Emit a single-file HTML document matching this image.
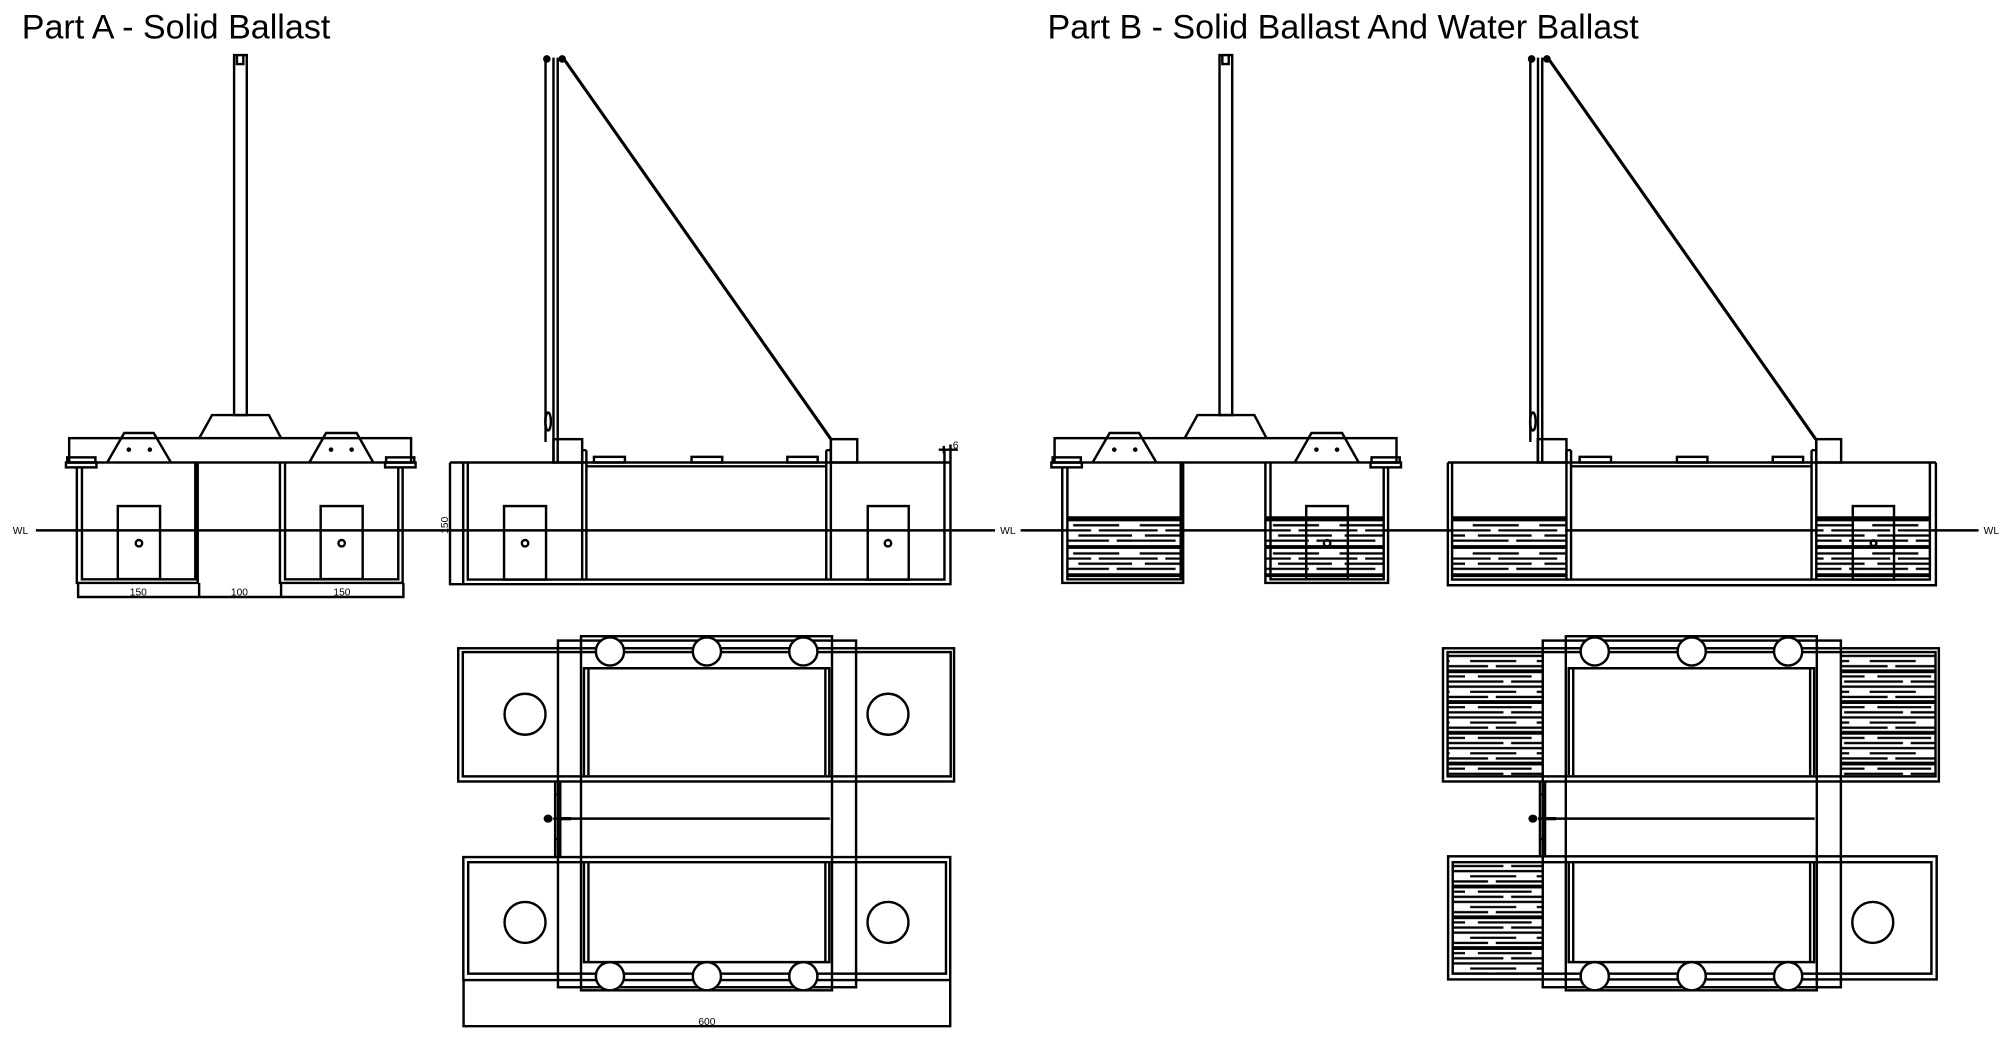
<!DOCTYPE html>
<html><head><meta charset="utf-8"><style>
html,body{margin:0;padding:0;background:#fff;}
svg{display:block;}
</style></head><body>
<svg width="2008" height="1039" viewBox="0 0 1568 811" preserveAspectRatio="none" xmlns="http://www.w3.org/2000/svg">
<defs>
<pattern id="water" width="52" height="22" patternUnits="userSpaceOnUse" x="0" y="403">
<rect width="52" height="22" fill="#fff"/>
<g stroke="#000" stroke-width="1.8">
<line x1="0" y1="2" x2="52" y2="2" stroke-width="3"/>
<line x1="6" y1="7" x2="42" y2="7"/>
<line x1="0" y1="11" x2="20" y2="11"/><line x1="26" y1="11" x2="52" y2="11"/>
<line x1="10" y1="15" x2="52" y2="15"/>
<line x1="0" y1="19" x2="34" y2="19"/><line x1="40" y1="19" x2="52" y2="19"/>
</g>
</pattern>
<pattern id="waterP" width="52" height="24" patternUnits="userSpaceOnUse" x="0" y="510">
<rect width="52" height="24" fill="#fff"/>
<g stroke="#000" stroke-width="1.8">
<line x1="0" y1="2" x2="52" y2="2"/>
<line x1="4" y1="6" x2="40" y2="6"/>
<line x1="0" y1="10" x2="18" y2="10"/><line x1="24" y1="10" x2="52" y2="10"/>
<line x1="0" y1="14" x2="52" y2="14" stroke-width="3"/>
<line x1="10" y1="18" x2="52" y2="18"/>
<line x1="0" y1="22" x2="30" y2="22"/><line x1="36" y1="22" x2="52" y2="22"/>
</g>
</pattern>
<g id="front">
<rect x="54" y="342" width="267" height="19"/>
<rect x="52.5" y="357" width="22" height="4"/><rect x="51.5" y="361" width="23.8" height="3.8"/>
<rect x="301.5" y="357" width="22" height="4"/><rect x="300.7" y="361" width="23.8" height="3.8"/>
<path d="M60 364.8V455H154.4V361M64 364.8V452.2H152.5V361"/>
<path d="M218.6 361V455H314.4V364.8M222.6 361V452.2H311V364.8"/>
<path d="M83.7 361L97 338H120L133.5 361"/>
<path d="M241.5 361L254.6 338H278.5L291.5 361"/>
<path d="M155.6 342L165.6 324H210L219.5 342"/>
<rect x="182.8" y="43" width="9.9" height="281"/>
<path d="M185 43V50H190V43"/>
<g fill="#000" stroke="none">
<circle cx="100.6" cy="351" r="1.8"/><circle cx="117" cy="351" r="1.8"/>
<circle cx="258.5" cy="351" r="1.8"/><circle cx="274.6" cy="351" r="1.8"/>
</g>
</g>
<g id="plan">
<rect x="435.7" y="500" width="232.8" height="270.6"/>
<rect x="453.7" y="496.6" width="196" height="276.4"/>
<path d="M456 605V521.6H647.6V605M459.5 605V521.6M644.5 605V521.6"/>
<path d="M456 673V751H647.6V673M459.5 673V751M644.5 673V751"/>
<path d="M432 639H648"/>
<path d="M433.5 610V669M437.5 610V669M433.5 620H437.5M433.5 655H437.5"/>
<ellipse cx="428" cy="639" rx="2.6" ry="2.2" fill="#000"/>
<path d="M438 639H446" stroke-width="2.6"/>
</g>
</defs>

<text x="17" y="30" font-family="Liberation Sans, sans-serif" font-size="26.6" fill="#000">Part A - Solid Ballast</text>
<text x="818" y="30" font-family="Liberation Sans, sans-serif" font-size="26.6" fill="#000">Part B - Solid Ballast And Water Ballast</text>

<g fill="none" stroke="#000" stroke-width="1.9">
<line x1="28" y1="414" x2="777" y2="414"/>
<line x1="797" y1="414" x2="1545" y2="414"/>

<use href="#front"/>
<rect x="92" y="395" width="33" height="57"/><circle cx="108.5" cy="424" r="2.5"/>
<rect x="250.4" y="395" width="32.8" height="57"/><circle cx="266.8" cy="424" r="2.5"/>
<path d="M61 466H315M61 455V467M155.5 455V467M219.5 455V467M315 455V467"/>

<path d="M351.4 361V456H742.2V347M351.4 361H742.2"/>
<path d="M361.7 361V456M365.3 361V452.4H737.5V351"/>
<path d="M454.6 351.4V452.4M457.9 351.4V452.4M454.6 351.4H457.9"/>
<path d="M645.2 351.4V452.4M648.8 343V452.4M645.2 351.4H648.8"/>
<path d="M457.9 364H645.2"/>
<rect x="432.2" y="342.8" width="22.4" height="18.2"/>
<rect x="648.8" y="342.8" width="20.6" height="18.2"/>
<rect x="463.8" y="356.6" width="24.2" height="4.4"/>
<rect x="540" y="356.6" width="24" height="4.4"/>
<rect x="614.8" y="356.6" width="23.7" height="4.4"/>
<rect x="393.6" y="395" width="32.8" height="57.4"/><circle cx="410" cy="424" r="2.5"/>
<rect x="677.6" y="395" width="32" height="57.4"/><circle cx="693.4" cy="424" r="2.5"/>
<path d="M426 45V345M432.2 45V361M435.5 45V361"/>
<ellipse cx="428" cy="329" rx="2.2" ry="7"/>
<circle cx="427" cy="46" r="2" fill="#000"/><circle cx="439" cy="46" r="2" fill="#000"/>
<path d="M441 47L649 343" stroke-width="2.4"/>
<path d="M733 351H748M737 348V354"/>

<rect x="357.8" y="506" width="387.2" height="104"/>
<rect x="361.4" y="509" width="381" height="97"/>
<rect x="361.8" y="669" width="380.2" height="96"/>
<rect x="365.6" y="673" width="373.1" height="87"/>
<path d="M362 765V801H742V765"/>
<use href="#plan"/>
<g fill="#fff">
<circle cx="476.3" cy="508.5" r="11"/><circle cx="552" cy="508.5" r="11"/><circle cx="627.3" cy="508.5" r="11"/>
<circle cx="476.3" cy="762" r="11"/><circle cx="552" cy="762" r="11"/><circle cx="627.3" cy="762" r="11"/>
</g>
<circle cx="410" cy="557.5" r="16"/><circle cx="693.4" cy="557.5" r="16"/>
<circle cx="410" cy="720" r="16"/><circle cx="693.4" cy="720" r="16"/>

<rect x="834" y="403" width="88" height="49" fill="url(#water)" stroke="none"/>
<rect x="989" y="403" width="91" height="49" fill="url(#water)" stroke="none"/>
<path d="M834 405H922M989 405H1080" stroke-width="4"/>
<use href="#front" transform="translate(769.5 0)"/>
<rect x="1020" y="395" width="32.5" height="57"/><circle cx="1036.3" cy="424" r="2.5"/>

<rect x="1134" y="403" width="89" height="49" fill="url(#water)" stroke="none"/>
<rect x="1418.3" y="403" width="88.7" height="49" fill="url(#water)" stroke="none"/>
<path d="M1134 405H1223M1418.3 405H1507" stroke-width="4"/>
<path d="M1130.6 361V456.8H1511.7V361M1130.6 361H1511.7"/>
<path d="M1133.9 361V452.4H1507V361"/>
<path d="M1223.2 351.4V452.4M1226.8 351.4V452.4M1223.2 351.4H1226.8"/>
<path d="M1414.6 351.4V452.4M1418.3 343V452.4M1414.6 351.4H1418.3"/>
<path d="M1226.8 364H1414.6"/>
<rect x="1200.8" y="342.8" width="22.4" height="18.2"/>
<rect x="1418.3" y="342.8" width="19.4" height="18.2"/>
<rect x="1233.5" y="356.6" width="24.5" height="4.4"/>
<rect x="1309.5" y="356.6" width="23.8" height="4.4"/>
<rect x="1384.3" y="356.6" width="23.7" height="4.4"/>
<rect x="1446.8" y="395" width="32.2" height="57.4"/><circle cx="1463" cy="424" r="2.2"/>
<path d="M1195 45V345M1201 45V361M1204.3 45V361"/>
<ellipse cx="1197" cy="329" rx="2.2" ry="7"/>
<circle cx="1196" cy="46" r="2" fill="#000"/><circle cx="1208" cy="46" r="2" fill="#000"/>
<path d="M1210 47L1418 343" stroke-width="2.4"/>

<rect x="1130.4" y="509" width="75" height="97" fill="url(#waterP)" stroke="none"/>
<rect x="1437.5" y="509" width="74" height="97" fill="url(#waterP)" stroke="none"/>
<rect x="1134.4" y="673" width="71" height="87" fill="url(#waterP)" stroke="none"/>
<rect x="1126.8" y="506" width="387.2" height="104"/>
<rect x="1130.4" y="509" width="381" height="97"/>
<rect x="1130.8" y="668.4" width="381.5" height="96.1"/>
<rect x="1134.4" y="673" width="373.8" height="87"/>
<use href="#plan" transform="translate(769 0)"/>
<g fill="#fff">
<circle cx="1245.3" cy="508.5" r="11"/><circle cx="1321" cy="508.5" r="11"/><circle cx="1396.3" cy="508.5" r="11"/>
<circle cx="1245.3" cy="762" r="11"/><circle cx="1321" cy="762" r="11"/><circle cx="1396.3" cy="762" r="11"/>
</g>
<circle cx="1462.4" cy="720" r="16"/>
</g>

<g font-family="Liberation Sans, sans-serif" font-size="8" fill="#000">
<text x="10" y="417">WL</text>
<text x="781" y="417">WL</text>
<text x="1549" y="417">WL</text>
<text x="108" y="465" text-anchor="middle">150</text>
<text x="187" y="465" text-anchor="middle">100</text>
<text x="267" y="465" text-anchor="middle">150</text>
<text x="552" y="800" text-anchor="middle">600</text>
<text x="744" y="350">6</text>
<text transform="translate(350 410) rotate(-90)" text-anchor="middle">150</text>
</g>
</svg>
</body></html>
